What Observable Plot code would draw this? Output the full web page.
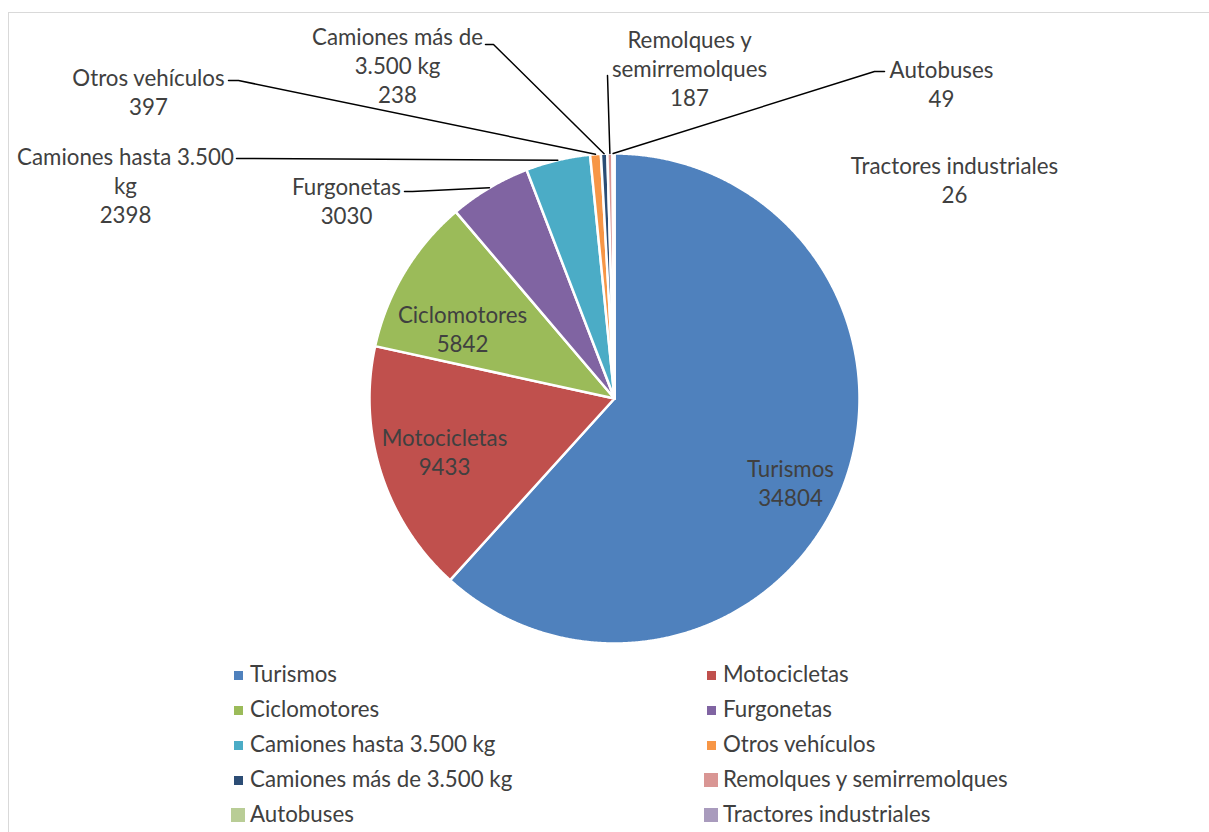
<!DOCTYPE html>
<html><head><meta charset="utf-8">
<script src="https://cdn.jsdelivr.net/npm/d3@7"></script>
<script src="https://cdn.jsdelivr.net/npm/@observablehq/plot@0.6"></script>
<style>
html,body{margin:0;padding:0;background:#fff;overflow:hidden;width:1209px;height:832px;}
#frame{position:absolute;left:8px;top:12px;width:1230px;height:900px;border:1px solid #d9d9d9;box-sizing:border-box;}
#chart{position:absolute;left:0;top:0;}
#legend{position:absolute;left:0;top:0;width:1209px;height:832px;font-family:Lato,sans-serif;font-size:22.3px;color:#404040;}
.sw{position:absolute;}
.lt{position:absolute;white-space:nowrap;line-height:1;transform:translateY(-50%);}
</style></head><body>
<div id="frame"></div>
<div id="chart"></div>
<div id="legend"></div>
<script>
// ---- data ----
const categories = ["Turismos","Motocicletas","Ciclomotores","Furgonetas","Camiones hasta 3.500 kg","Otros vehículos","Camiones más de 3.500 kg","Remolques y semirremolques","Autobuses","Tractores industriales"];
const values = [34804, 9433, 5842, 3030, 2398, 397, 238, 187, 49, 26];
const labelNames = ["Turismos","Motocicletas","Ciclomotores","Furgonetas","Camiones hasta 3.500\nkg","Otros vehículos","Camiones más de\n3.500 kg","Remolques y\nsemirremolques","Autobuses","Tractores industriales"];
const colors = ["#4F81BD","#C0504D","#9BBB59","#8064A2","#4BACC6","#F79646","#2C4D75","#D99694","#B9CD96","#A99BBD"];

// ---- layout (pixels) ----
const W = 1209, H = 660, CX = 614, CY = 398, R = 245;
const u = px => (px - CX) / R;
const v = py => (CY - py) / R;
// label block centres
const labelPos = [[790,482],[444,451],[462,328],[346,199.5],[125,184],[148,91],[397,64],[689,67.5],[941,82.5],[954,178.5]];
// leader line start points (label side), null = no leader
const leaderStart = [null,null,null,[[404,191],[412,191]],[[236,158],[244,158]],[[228,80],[238,80]],[[485,44],[493,44]],[[607,75]],[[884,71],[874,71]],null];

// ---- pie geometry from values ----
const arcs = d3.pie().sort(null).value(d => d)(values);
const slices = [];
arcs.forEach((a, i) => {
  slices.push({name: categories[i], x: 0, y: 0});
  const n = Math.max(2, Math.ceil((a.endAngle - a.startAngle) / 0.004));
  for (let k = 0; k <= n; k++) {
    const t = a.startAngle + (a.endAngle - a.startAngle) * k / n;
    slices.push({name: categories[i], x: Math.sin(t), y: Math.cos(t)});
  }
});
const labels = arcs.map((a, i) => ({name: categories[i], text: labelNames[i] + "\n" + values[i], x: u(labelPos[i][0]), y: v(labelPos[i][1])}));
const leaders = [];
arcs.forEach((a, i) => {
  if (!leaderStart[i]) return;
  const m = (a.startAngle + a.endAngle) / 2;
  leaderStart[i].forEach(p => leaders.push({name: categories[i], x: u(p[0]), y: v(p[1])}));
  leaders.push({name: categories[i], x: Math.sin(m) * 1.0, y: Math.cos(m) * 1.0});
});

const chart = Plot.plot({
  width: W, height: H, margin: 0,
  x: {domain: [u(0), u(W)], axis: null},
  y: {domain: [v(H), v(0)], axis: null},
  color: {domain: categories, range: colors},
  style: {background: "transparent", fontFamily: "Lato, sans-serif"},
  marks: [
    Plot.line(slices, {x: "x", y: "y", z: "name", fill: "name", stroke: "white", strokeWidth: 2.5, strokeLinejoin: "round", curve: "linear-closed"}),
    Plot.line(leaders, {x: "x", y: "y", z: "name", stroke: "black", strokeWidth: 1.5}),
    Plot.text(labels, {x: "x", y: "y", text: "text", fontSize: 22.3, fill: "#404040", lineHeight: 1.3, textAnchor: "middle", lineAnchor: "middle"})
  ]
});
document.getElementById("chart").appendChild(chart);

// ---- legend (HTML) ----
const leg = document.getElementById("legend");
const colSw = [238, 711], colText = [250, 723], rowY = [674, 709, 744, 779, 814];
categories.forEach((c, i) => {
  const r = Math.floor(i / 2), col = i % 2;
  const big = i >= 7;
  const s = big ? 14 : 9;
  const sw = document.createElement("div");
  sw.className = "sw";
  sw.style.cssText = `left:${colSw[col] - s/2}px;top:${rowY[r] - s/2 + 1}px;width:${s}px;height:${s}px;background:${colors[i]}`;
  leg.appendChild(sw);
  const t = document.createElement("div");
  t.className = "lt";
  t.style.left = colText[col] + "px";
  t.style.top = rowY[r] + "px";
  t.textContent = c;
  leg.appendChild(t);
});
</script>
</body></html>
